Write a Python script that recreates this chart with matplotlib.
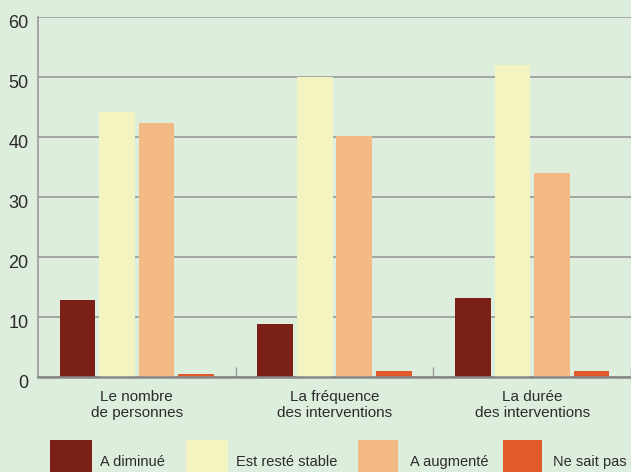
import matplotlib.pyplot as plt
import matplotlib.transforms as mtransforms
from matplotlib.patches import Rectangle
import numpy as np

# data
categories = ["Le nombre\nde personnes", "La fréquence\ndes interventions", "La durée\ndes interventions"]
series = ["A diminué", "Est resté stable", "A augmenté", "Ne sait pas"]
diminue = [12.9, 8.9, 13.2]
stable = [44.2, 50.0, 52.0]
augmente = [42.4, 40.2, 34.1]
ne_sait_pas = [0.6, 1.1, 1.1]
colors = ["#7a2016", "#f4f4c0", "#f4ba85", "#e05a2a"]

bg = "#deeedd"
grid_col = "#999999"
text_col = "#2b2b2b"

plt.rcParams['font.family'] = ['Liberation Sans', 'DejaVu Sans']

fig = plt.figure(figsize=(6.31, 4.72), dpi=100, facecolor=bg)
ax = fig.add_axes([38 / 631, (472 - 377.3) / 472, 1 - 38 / 631, 360 / 472])
ax.set_facecolor(bg)

x = np.arange(len(categories))
width = 0.18
offsets = [-0.3, -0.1, 0.1, 0.3]
for vals, off, col in zip([diminue, stable, augmente, ne_sait_pas], offsets, colors):
    ax.bar(x + off, vals, width, color=col, zorder=3)

ax.set_xlim(-0.5, 2.5)
ax.set_ylim(0, 60)
ax.set_yticks(range(0, 61, 10))
ax.yaxis.grid(True, color=grid_col, linewidth=1.2, zorder=1)
ax.tick_params(axis='y', length=0, pad=7, labelsize=13, labelcolor=text_col)
shift = mtransforms.ScaledTranslation(0, -4.5 / 100, fig.dpi_scale_trans)
for lab in ax.get_yticklabels():
    lab.set_transform(lab.get_transform() + shift)

ax.set_xticks(x)
ax.set_xticklabels(categories, fontsize=11, color=text_col, linespacing=1.2)
ax.tick_params(axis='x', which='major', length=0, pad=9)
ax.set_xticks([0.5, 1.5, 2.5], minor=True)
ax.tick_params(axis='x', which='minor', direction='in', length=7, color=grid_col, width=1)

for s in ['top', 'right']:
    ax.spines[s].set_visible(False)
ax.spines['left'].set_color(grid_col)
ax.spines['left'].set_linewidth(1.2)
ax.spines['bottom'].set_color("#888888")
ax.spines['bottom'].set_linewidth(1.8)
ax.spines['bottom'].set_zorder(4)

# legend drawn along the bottom edge
W, H = 631, 472
legend_items = [(50, 92, 100), (186, 228, 236), (358, 398, 410), (503, 542, 553)]
for (x0, x1, tx), name, col in zip(legend_items, series, colors):
    fig.add_artist(Rectangle((x0 / W, 0), (x1 - x0) / W, 32 / H,
                             transform=fig.transFigure, color=col, lw=0))
    fig.text(tx / W, (472 - 462) / H, name, fontsize=10.5, color=text_col,
             ha='left', va='center')

fig.savefig("out.png", dpi=100, facecolor=bg)
